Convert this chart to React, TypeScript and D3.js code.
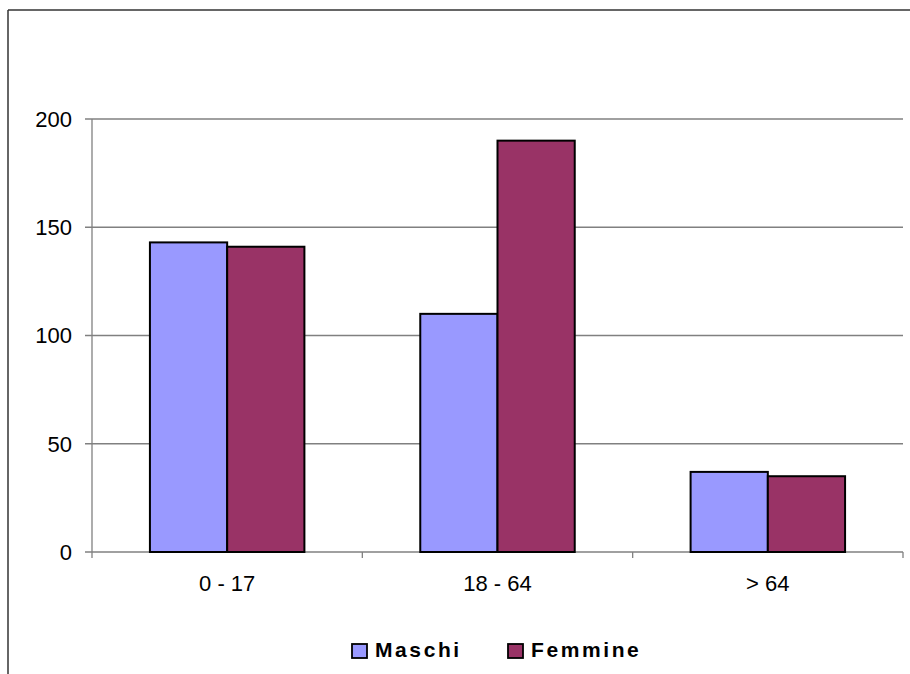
import React from "react";
import * as d3 from "d3";

const categories = ["0 - 17", "18 - 64", "> 64"];
const seriesNames = ["Maschi", "Femmine"];
const maschi = [143, 110, 37];
const femmine = [141, 190, 35];
const yTicks = [0, 50, 100, 150, 200];
const colors = ["#9999FF", "#993366"];

export default function App() {
  const W = 910, H = 674;
  const left = 92, right = 903, top = 119, bottom = 552;
  const x = d3.scaleBand<string>().domain(categories).range([left, right]).paddingInner(0).paddingOuter(0);
  const y = d3.scaleLinear().domain([0, 200]).range([bottom, top]);
  const bw = x.bandwidth();
  const barW = bw / 3.5;
  const series = [maschi, femmine];
  const font = "Arial, 'Liberation Sans', sans-serif";
  return (
    <svg width={W} height={H} style={{ position: "absolute", left: 0, top: 0, background: "#fff" }}>
      <rect x={0} y={0} width={W} height={H} fill="#fff" />
      <line x1={8} y1={10} x2={W} y2={10} stroke="#333" strokeWidth={1.5} />
      <line x1={8} y1={10} x2={8} y2={H} stroke="#333" strokeWidth={1.5} />
      {yTicks.map((t) => (
        <g key={t}>
          <line x1={left - 7} x2={right} y1={y(t)} y2={y(t)} stroke="#808080" strokeWidth={1.3} />
          <text x={72} y={y(t)} dy="0.36em" textAnchor="end" fontFamily={font} fontSize={22} fill="#000">{t}</text>
        </g>
      ))}
      <line x1={left} x2={left} y1={top} y2={bottom + 6} stroke="#808080" strokeWidth={1.3} />
      {categories.map((c, i) => (
        <line key={"tk" + i} x1={x(c)! + bw} x2={x(c)! + bw} y1={bottom} y2={bottom + 6} stroke="#808080" strokeWidth={1.3} />
      ))}
      {categories.map((c, i) =>
        series.map((s, j) => {
          const bx = x(c)! + bw * 0.75 / 3.5 + j * barW;
          return (
            <rect key={c + j} x={bx} y={y(s[i])} width={barW} height={bottom - y(s[i])} fill={colors[j]} stroke="#000" strokeWidth={2} />
          );
        })
      )}
      {categories.map((c) => (
        <text key={"xl" + c} x={x(c)! + bw / 2} y={591} textAnchor="middle" fontFamily={font} fontSize={22} fill="#000">{c}</text>
      ))}
      {seriesNames.map((n, j) => {
        const lx = j === 0 ? 352 : 508;
        return (
          <g key={n}>
            <rect x={lx} y={644} width={15} height={14} fill={colors[j]} stroke="#000" strokeWidth={1.8} />
            <text x={lx + 23} y={657} fontFamily={font} fontSize={21} fontWeight="bold" letterSpacing={2.6} fill="#000">{n}</text>
          </g>
        );
      })}
    </svg>
  );
}
